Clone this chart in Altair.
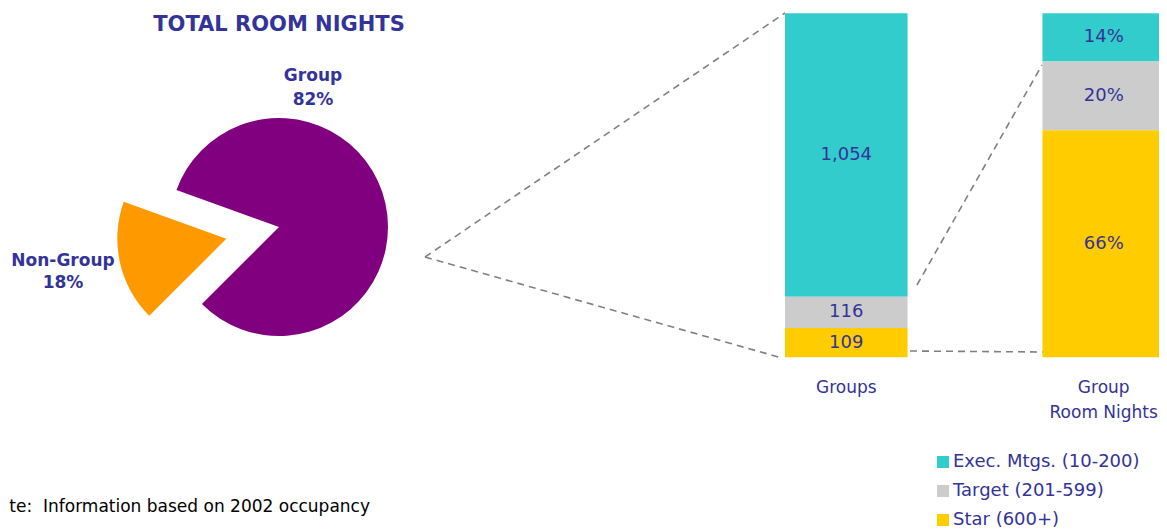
import math
import altair as alt
import pandas as pd

# ---------------- data ----------------
pie_labels = ["Group", "Non-Group"]
pie_pct = [82, 18]
pie_order = [1, 0]  # Non-Group is swept first

bars = ["Groups", "Group Room Nights"]
segments = ["Exec. Mtgs. (10-200)", "Target (201-599)", "Star (600+)"]
groups_count = [1054, 116, 109]
room_nights_pct = [14, 20, 66]
stack_rank = [2, 1, 0]  # Exec on top, Star at the bottom

title_text = "TOTAL ROOM NIGHTS"
note_text = "te:\u00a0\u00a0Information based on 2002 occupancy"

# ---------------- styles ----------------
NAVY = "#333399"
SEG_COLORS = ["#33CCCC", "#CCCCCC", "#FFCC00"]
PURPLE = "#800080"
ORANGE = "#FF9900"
LINE = "#808080"
FONT = "DejaVu Sans"

W, H = 1151, 523
CX, CY, R = 271, 219, 109
START = math.radians(225)
EXPLODE = 54

total = sum(pie_pct)
ng_sweep = 2 * math.pi * pie_pct[1] / total
ng_mid = START + ng_sweep / 2
OX = EXPLODE * math.sin(ng_mid)
OY = -EXPLODE * math.cos(ng_mid)

# ---------------- tables ----------------
pie_df = pd.DataFrame({"part": pie_labels, "pct": pie_pct, "porder": pie_order})

rows = []
for s, c, p, r in zip(segments, groups_count, room_nights_pct, stack_rank):
    rows.append({"bar": bars[0], "segment": s, "value": c, "label": f"{c:,}", "rank": r})
    rows.append({"bar": bars[1], "segment": s, "value": p, "label": f"{p}%", "rank": r})
bar_df = pd.DataFrame(rows)

one = alt.Data(values=[{}])

# ---------------- pie ----------------
theta_scale = alt.Scale(domain=[0, total], range=[START, START + 2 * math.pi])
pie_base = alt.Chart(pie_df).transform_stack(
    stack="pct", groupby=[], as_=["t0", "t1"], sort=[alt.SortField("porder")]
)
group_arc = pie_base.transform_filter(alt.datum.part == pie_labels[0]).mark_arc(
    color=PURPLE, radius=R
).encode(
    theta=alt.Theta("t0:Q", scale=theta_scale),
    theta2="t1:Q",
    x=alt.value(CX),
    y=alt.value(CY),
)
ng_arc = pie_base.transform_filter(alt.datum.part == pie_labels[1]).mark_arc(
    color=ORANGE, radius=R
).encode(
    theta=alt.Theta("t0:Q", scale=theta_scale),
    theta2="t1:Q",
    x=alt.value(CX + OX),
    y=alt.value(CY + OY),
)

group_lbl = alt.Chart(one).mark_text(
    text=[pie_labels[0], f"{pie_pct[0]}%"], font=FONT, fontSize=17, fontWeight="bold",
    color=NAVY, align="center", baseline="alphabetic", lineHeight=24,
).encode(x=alt.value(305), y=alt.value(73))
ng_lbl = alt.Chart(one).mark_text(
    text=[pie_labels[1], f"{pie_pct[1]}%"], font=FONT, fontSize=17, fontWeight="bold",
    color=NAVY, align="center", baseline="alphabetic", lineHeight=22,
).encode(x=alt.value(55), y=alt.value(258))

title = alt.Chart(one).mark_text(
    text=title_text, font=FONT, fontSize=21, fontWeight="bold", color=NAVY,
    align="center", baseline="alphabetic",
).encode(x=alt.value(271), y=alt.value(23))

note = alt.Chart(one).mark_text(
    text=note_text, font=FONT, fontSize=17, color="#000000",
    align="right", baseline="alphabetic",
).encode(x=alt.value(362), y=alt.value(504))

# ---------------- bars ----------------
bar_base = alt.Chart(bar_df).transform_stack(
    stack="value", groupby=["bar"], as_=["y0", "y1"], offset="normalize",
    sort=[alt.SortField("rank")],
)
x_scale = alt.Scale(domain=bars, range=[777, 1157], paddingInner=0.524, paddingOuter=0)
y_scale = alt.Scale(domain=[0, 1], range=[349.3, 5.3])

x_axis = alt.Axis(
    title=None, domain=False, ticks=False, tickSize=0, grid=False, labelAngle=0,
    labelFont=FONT, labelFontSize=17, labelColor=NAVY, labelPadding=22,
    labelLineHeight=25, offset=-(H - 349.3),
    labelExpr="indexof(datum.label, ' ') > 0 ? [slice(datum.label, 0, indexof(datum.label, ' ')), slice(datum.label, indexof(datum.label, ' ') + 1)] : datum.label",
)

bar_rects = bar_base.mark_bar().encode(
    x=alt.X("bar:N", scale=x_scale, axis=x_axis, sort=bars),
    y=alt.Y("y0:Q", scale=y_scale, axis=None),
    y2="y1:Q",
    color=alt.Color(
        "segment:N",
        scale=alt.Scale(domain=segments, range=SEG_COLORS),
        legend=alt.Legend(
            title=None, orient="none", legendX=926, legendY=445, symbolType="square",
            symbolSize=144, symbolStrokeWidth=0, labelFont=FONT, labelFontSize=18,
            labelColor=NAVY, rowPadding=11, labelOffset=1, padding=0, labelLimit=300,
        ),
    ),
)

bar_text = bar_base.transform_calculate(mid="(datum.y0 + datum.y1) / 2").mark_text(
    font=FONT, fontSize=18, color=NAVY, baseline="middle", align="center"
).encode(
    x=alt.X("bar:N", sort=bars),
    y=alt.Y("mid:Q"),
    text="label:N",
)

# ---------------- connectors ----------------
def connector(x1, y1, x2, y2):
    return alt.Chart(one).mark_rule(
        color=LINE, strokeWidth=1.6, strokeDash=[7, 5]
    ).encode(x=alt.value(x1), y=alt.value(y1), x2=alt.value(x2), y2=alt.value(y2))

connectors = [
    connector(417, 249, 777, 5),
    connector(417, 249, 774, 350),
    connector(909, 277, 1034, 57),
    connector(902, 343, 1035, 344),
]

chart = alt.layer(
    group_arc, ng_arc, *connectors, bar_rects, bar_text,
    group_lbl, ng_lbl, title, note,
).properties(
    width=W, height=H, autosize=alt.AutoSizeParams(type="none"), padding=0,
).configure_view(stroke=None)

chart.save("out.html", embed_options={"renderer": "svg", "actions": False})
